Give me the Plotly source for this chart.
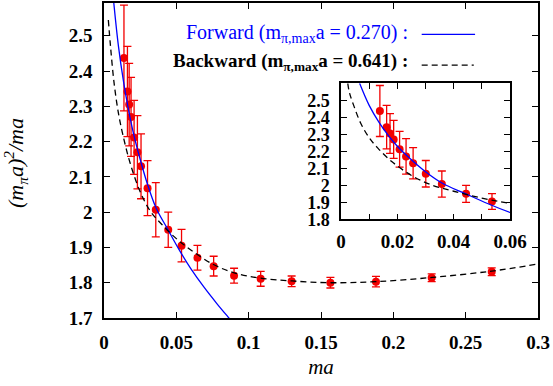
import plotly.graph_objects as go

# ---- data ----
ma = [0.0138, 0.0162, 0.0174, 0.0187, 0.0208, 0.0231, 0.0256, 0.0301, 0.0358, 0.0444, 0.0536,
      0.0646, 0.0758, 0.0899, 0.1083, 0.1297, 0.1565, 0.1880, 0.2265, 0.2680]
ratio = [2.437, 2.342, 2.305, 2.270, 2.212, 2.170, 2.130, 2.068, 2.007, 1.950, 1.905,
         1.871, 1.847, 1.820, 1.811, 1.804, 1.800, 1.803, 1.814, 1.831]
err = [0.150, 0.128, 0.117, 0.112, 0.105, 0.104, 0.092, 0.078, 0.077, 0.050, 0.046,
       0.035, 0.028, 0.021, 0.021, 0.015, 0.015, 0.015, 0.011, 0.011]

# forward fit curve
fwd_x = [0.0066, 0.0100, 0.0135, 0.0165, 0.0200, 0.0240, 0.0300, 0.0360, 0.0440,
         0.0520, 0.0600, 0.0690, 0.0780, 0.0870, 0.0920]
fwd_y = [2.600, 2.470, 2.370, 2.300, 2.230, 2.165, 2.080, 2.012, 1.952,
         1.893, 1.840, 1.788, 1.741, 1.697, 1.673]

# backward fit curve
bwd_x = [0.0024, 0.0030, 0.0045, 0.0070, 0.0100, 0.0130, 0.0180, 0.0250, 0.0320, 0.0400,
         0.0500, 0.0600, 0.0750, 0.0900, 0.1080, 0.1300, 0.1570, 0.1880, 0.2270, 0.2680, 0.3000]
bwd_y = [2.600, 2.545, 2.470, 2.365, 2.280, 2.220, 2.140, 2.058, 2.003, 1.965,
         1.925, 1.893, 1.853, 1.828, 1.813, 1.805, 1.800, 1.803, 1.815, 1.833, 1.853]

main_xticks = [0, 0.05, 0.1, 0.15, 0.2, 0.25, 0.3]
main_xtext = ["0", "0.05", "0.1", "0.15", "0.2", "0.25", "0.3"]
main_yticks = [1.7, 1.8, 1.9, 2.0, 2.1, 2.2, 2.3, 2.4, 2.5]
main_ytext = ["1.7", "1.8", "1.9", "2", "2.1", "2.2", "2.3", "2.4", "2.5"]
ins_xticks = [0, 0.01, 0.02, 0.03, 0.04, 0.05, 0.06]
ins_xtext = ["0", "", "0.02", "", "0.04", "", "0.06"]
ins_yticks = [1.8, 1.9, 2.0, 2.1, 2.2, 2.3, 2.4, 2.5]
ins_ytext = ["1.8", "1.9", "2", "2.1", "2.2", "2.3", "2.4", "2.5"]

RED = "#f20000"
SERIF = "Liberation Serif"

fig = go.Figure()

for xa, ya in (("x", "y"), ("x2", "y2")):
    fig.add_trace(go.Scatter(
        x=ma, y=ratio, mode="markers", xaxis=xa, yaxis=ya,
        marker=dict(color=RED, size=8),
        error_y=dict(type="data", array=err, color=RED, thickness=1.3, width=4),
        showlegend=False))
    start = 1 if xa == "x" else 0
    fig.add_trace(go.Scatter(
        x=fwd_x, y=fwd_y, mode="lines", xaxis=xa, yaxis=ya,
        line=dict(color="#0000ff", width=1.3, shape="spline"), showlegend=False))
    fig.add_trace(go.Scatter(
        x=bwd_x[start:], y=bwd_y[start:], mode="lines", xaxis=xa, yaxis=ya,
        line=dict(color="black", width=1.3, dash="6px,4px", shape="spline"), showlegend=False))

def axstyle(size):
    return dict(showline=True, linecolor="black", linewidth=1.5, mirror="allticks",
                ticks="inside", ticklen=6, tickwidth=1.2, tickcolor="black",
                showgrid=False, zeroline=False, automargin=False,
                tickfont=dict(family=SERIF, size=size, color="black", weight="bold"))

fig.update_layout(
    width=553, height=386,
    margin=dict(l=104, r=15, t=3, b=68),
    paper_bgcolor="white", plot_bgcolor="white",
    xaxis=dict(range=[0, 0.3], tickvals=main_xticks, ticktext=main_xtext,
               title=dict(text="<i>ma</i>", font=dict(family=SERIF, size=21, color="black"), standoff=8),
               ticklabelstandoff=6, **axstyle(19)),
    yaxis=dict(range=[1.7, 2.593], tickvals=main_yticks, ticktext=main_ytext,
               ticklabelstandoff=6, **axstyle(19)),
    xaxis2=dict(domain=[0.5461, 0.9355], anchor="y2", range=[0, 0.06],
                tickvals=ins_xticks, ticktext=ins_xtext, ticklabelstandoff=4, **axstyle(19)),
    yaxis2=dict(domain=[0.3133, 0.7451], anchor="x2", range=[1.8, 2.6],
                tickvals=ins_yticks, ticktext=ins_ytext, ticklabelstandoff=6, **axstyle(18)),
)

# y-axis title
fig.add_annotation(xref="paper", yref="paper", x=-0.205, y=0.492, xanchor="center", yanchor="middle",
                   textangle=-90, showarrow=False,
                   text="<i>(m<sub>π</sub>a)<sup>2</sup>/ma</i>",
                   font=dict(family=SERIF, size=22, color="black"))

# key (text on the left, line sample on the right, as in the reference)
fig.add_annotation(xref="paper", yref="paper", x=0.705, y=0.9038, xanchor="right", yanchor="middle",
                   text="Forward (m<sub>π,max</sub>a = 0.270) :", showarrow=False,
                   font=dict(family=SERIF, size=20, color="#0000ff"))
fig.add_annotation(xref="paper", yref="paper", x=0.705, y=0.8137, xanchor="right", yanchor="middle",
                   text="<b>Backward (m<sub>π,max</sub>a = 0.641) :</b>", showarrow=False,
                   font=dict(family=SERIF, size=19, color="black"))
fig.add_shape(type="line", xref="paper", yref="paper", x0=0.732, x1=0.855, y0=0.9006, y1=0.9006,
              line=dict(color="#0000ff", width=1.3))
fig.add_shape(type="line", xref="paper", yref="paper", x0=0.732, x1=0.852, y0=0.803, y1=0.803,
              line=dict(color="black", width=1.3, dash="6px,4px"))

fig.write_html("out.html")
